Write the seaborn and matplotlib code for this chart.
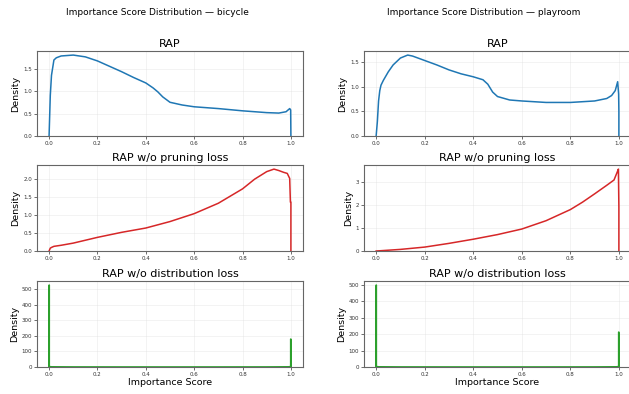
import numpy as np
import pandas as pd
import matplotlib
matplotlib.use('Agg')
import matplotlib.pyplot as plt
from matplotlib.ticker import MaxNLocator
import seaborn as sns

# densities
scenes = ['bicycle', 'playroom']
variants = ['RAP', 'RAP w/o pruning loss', 'RAP w/o distribution loss']
colors = ['#1f77b4', '#d62728', '#2ca02c']

bicycle_rap_x = [0.0, 0.005, 0.01, 0.02, 0.03, 0.05, 0.1, 0.15, 0.2, 0.25, 0.3, 0.35, 0.4,
                 0.43, 0.45, 0.47, 0.5, 0.55, 0.6, 0.7, 0.8, 0.9, 0.95, 0.98, 0.995, 0.999, 1.0]
bicycle_rap_y = [0.0, 0.9, 1.35, 1.69, 1.74, 1.78, 1.80, 1.76, 1.67, 1.55, 1.43, 1.30, 1.18,
                 1.07, 0.98, 0.87, 0.75, 0.69, 0.65, 0.61, 0.56, 0.52, 0.51, 0.54, 0.61, 0.58, 0.0]

playroom_rap_x = [0.0, 0.005, 0.01, 0.015, 0.02, 0.03, 0.05, 0.07, 0.1, 0.13, 0.15, 0.2, 0.25,
                  0.3, 0.35, 0.4, 0.44, 0.46, 0.48, 0.5, 0.55, 0.6, 0.7, 0.8, 0.9, 0.95, 0.97,
                  0.985, 0.995, 0.999, 1.0, 1.0]
playroom_rap_y = [0.0, 0.29, 0.71, 0.92, 1.03, 1.13, 1.30, 1.44, 1.58, 1.64, 1.62, 1.53, 1.44,
                  1.34, 1.26, 1.20, 1.14, 1.05, 0.89, 0.80, 0.73, 0.71, 0.68, 0.68, 0.71, 0.76, 0.82,
                  0.92, 1.10, 0.85, 0.5, 0.0]

bicycle_nopr_x = [0.0, 0.005, 0.01, 0.02, 0.05, 0.1, 0.2, 0.3, 0.4, 0.5, 0.6, 0.7, 0.75, 0.8,
                  0.85, 0.9, 0.93, 0.95, 0.97, 0.985, 0.995, 0.998, 1.0, 1.0]
bicycle_nopr_y = [0.0, 0.08, 0.10, 0.13, 0.16, 0.22, 0.38, 0.52, 0.64, 0.82, 1.04, 1.33, 1.53, 1.73,
                  2.00, 2.21, 2.28, 2.24, 2.19, 2.16, 2.02, 1.36, 1.36, 0.0]

playroom_nopr_x = [0.0, 0.1, 0.2, 0.3, 0.4, 0.5, 0.6, 0.7, 0.8, 0.85, 0.9, 0.95, 0.98, 0.995,
                   0.998, 1.0, 1.0]
playroom_nopr_y = [0.0, 0.07, 0.17, 0.33, 0.51, 0.71, 0.95, 1.31, 1.79, 2.11, 2.47, 2.84, 3.07, 3.46,
                   3.54, 1.9, 0.0]

bicycle_nodist_x = [0.0, 0.0, 0.001, 0.001, 0.01, 0.1, 0.3, 0.5, 0.7, 0.9, 0.99, 0.999, 0.999, 1.0, 1.0]
bicycle_nodist_y = [0.0, 528, 528, 3.0, 1.5, 0.8, 0.6, 0.5, 0.6, 0.8, 1.5, 3.0, 180, 180, 0.0]

playroom_nodist_x = [0.0, 0.0, 0.001, 0.001, 0.01, 0.1, 0.3, 0.5, 0.7, 0.9, 0.99, 0.999, 0.999, 1.0, 1.0]
playroom_nodist_y = [0.0, 500, 500, 3.0, 1.5, 0.8, 0.6, 0.5, 0.6, 0.8, 1.5, 3.0, 213, 213, 0.0]

curves = {
    ('bicycle', 0): (bicycle_rap_x, bicycle_rap_y),
    ('bicycle', 1): (bicycle_nopr_x, bicycle_nopr_y),
    ('bicycle', 2): (bicycle_nodist_x, bicycle_nodist_y),
    ('playroom', 0): (playroom_rap_x, playroom_rap_y),
    ('playroom', 1): (playroom_nopr_x, playroom_nopr_y),
    ('playroom', 2): (playroom_nodist_x, playroom_nodist_y),
}

fig = plt.figure(figsize=(6.29, 3.94), dpi=100)

col_left = [0.0588, 0.5787]
col_width = [0.4229, 0.4245]
row_bottom = [0.6548, 0.3629, 0.0685]
row_height = [0.2157, 0.2183, 0.2183]
suptitle_x = [0.2496, 0.7695]

for c, scene in enumerate(scenes):
    fig.text(suptitle_x[c], 0.9678, f'Importance Score Distribution \u2014 {scene}',
             ha='center', va='center', fontsize=6.5)
    for r, name in enumerate(variants):
        ax = fig.add_axes([col_left[c], row_bottom[r], col_width[c], row_height[r]])
        xs, ys = curves[(scene, r)]
        df = pd.DataFrame({'score': xs, 'density': ys})
        sns.lineplot(data=df, x='score', y='density', ax=ax, color=colors[r],
                     linewidth=1.1, estimator=None, sort=False)
        ax.set_xlim(-0.05, 1.05)
        ax.set_ylim(0, max(ys) * 1.05)
        ax.yaxis.set_major_locator(MaxNLocator(nbins=6, steps=[1, 5, 10]))
        ax.set_title(name, fontsize=8, pad=3)
        ax.set_ylabel('Density', fontsize=6.8, labelpad=2)
        if r == 2:
            ax.set_xlabel('Importance Score', fontsize=6.8, labelpad=1)
        else:
            ax.set_xlabel('')
        ax.tick_params(labelsize=4, length=2, width=0.5, pad=1.5, colors='#333333')
        ax.grid(True, color='#dddddd', linewidth=0.4, alpha=0.6)
        for s in ax.spines.values():
            s.set_color('#666666')
            s.set_linewidth(0.8)

fig.savefig('out.png', dpi=100)
